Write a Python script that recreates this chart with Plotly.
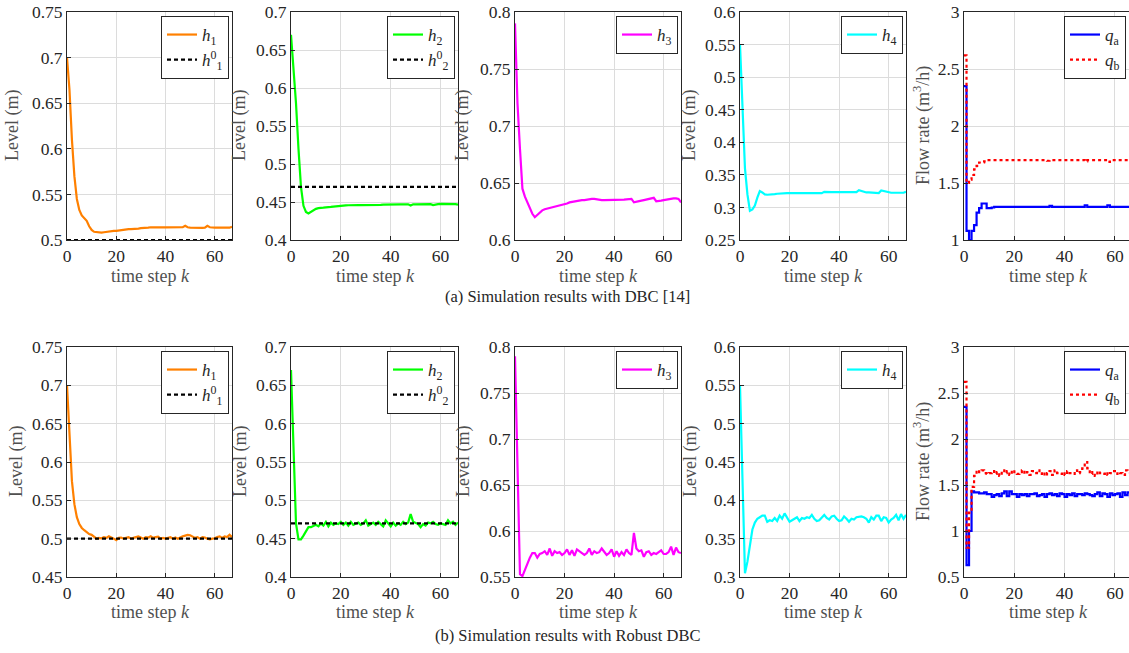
import plotly.graph_objects as go

W, H = 1129, 653

# ---------------- data ----------------
k = list(range(68))

# (a) DBC [14]
a_h1 = [0.700, 0.665, 0.610, 0.570, 0.545, 0.533, 0.527, 0.524, 0.521, 0.515,
        0.511, 0.509, 0.5085, 0.508, 0.508, 0.5085, 0.509, 0.509, 0.5095, 0.510,
        0.510, 0.5105, 0.511, 0.511, 0.5115, 0.512, 0.512, 0.512, 0.5125, 0.5125,
        0.513, 0.513, 0.513, 0.5135, 0.514, 0.5138, 0.5138, 0.5138, 0.5138, 0.5138,
        0.5138, 0.5138, 0.5138, 0.5138, 0.5138, 0.5138, 0.5138, 0.514, 0.5155, 0.514,
        0.5135, 0.5133, 0.5133, 0.5133, 0.5133, 0.5133, 0.5135, 0.5155, 0.514, 0.5135,
        0.5135, 0.5135, 0.5135, 0.5135, 0.5135, 0.5135, 0.5135, 0.5145]
a_h2 = [0.670, 0.630, 0.580, 0.520, 0.470, 0.445, 0.437, 0.435, 0.437, 0.440,
        0.441, 0.442, 0.442, 0.4425, 0.443, 0.443, 0.4435, 0.444, 0.4445, 0.445,
        0.445, 0.4452, 0.4455, 0.4457, 0.446, 0.446, 0.446, 0.446, 0.446, 0.446,
        0.446, 0.446, 0.446, 0.446, 0.4455, 0.446, 0.4462, 0.4465, 0.4467, 0.447,
        0.447, 0.447, 0.447, 0.447, 0.447, 0.447, 0.447, 0.447, 0.4455, 0.447,
        0.447, 0.4472, 0.4472, 0.4472, 0.4472, 0.4472, 0.4472, 0.446, 0.447, 0.4472,
        0.4475, 0.4475, 0.4475, 0.4475, 0.4475, 0.4475, 0.4472, 0.4465]
a_h3 = [0.790, 0.720, 0.680, 0.645, 0.638, 0.633, 0.628, 0.623, 0.620, 0.622,
        0.624, 0.626, 0.627, 0.6275, 0.628, 0.6285, 0.629, 0.6295, 0.630, 0.631,
        0.6315, 0.632, 0.633, 0.6335, 0.634, 0.634, 0.6345, 0.635, 0.635, 0.6355,
        0.636, 0.636, 0.636, 0.6355, 0.635, 0.635, 0.635, 0.635, 0.6352, 0.6352,
        0.6353, 0.6353, 0.6355, 0.6355, 0.6355, 0.6357, 0.6358, 0.636, 0.633, 0.6333,
        0.634, 0.6345, 0.635, 0.6355, 0.636, 0.6365, 0.637, 0.634, 0.634, 0.6345,
        0.635, 0.6355, 0.636, 0.636, 0.6365, 0.6365, 0.636, 0.633]
a_h4 = [0.550, 0.440, 0.360, 0.320, 0.295, 0.297, 0.303, 0.315, 0.325, 0.323,
        0.320, 0.3195, 0.3195, 0.320, 0.3205, 0.321, 0.3215, 0.3215, 0.322, 0.322,
        0.322, 0.322, 0.322, 0.322, 0.322, 0.322, 0.322, 0.322, 0.322, 0.322,
        0.322, 0.322, 0.322, 0.322, 0.324, 0.3235, 0.3235, 0.3235, 0.3235, 0.3235,
        0.3235, 0.3235, 0.3235, 0.3235, 0.3235, 0.3235, 0.3235, 0.3235, 0.3265, 0.325,
        0.324, 0.323, 0.323, 0.323, 0.323, 0.323, 0.322, 0.326, 0.325, 0.3235,
        0.3225, 0.3225, 0.3225, 0.3225, 0.3225, 0.3225, 0.3225, 0.324]
a_qa = [2.35, 1.08, 1.00, 1.08, 1.13, 1.24, 1.28, 1.32, 1.32, 1.28,
        1.28, 1.285, 1.29, 1.29, 1.29, 1.29, 1.29, 1.29, 1.29, 1.29,
        1.29, 1.29, 1.29, 1.29, 1.29, 1.29, 1.29, 1.29, 1.29, 1.29,
        1.29, 1.29, 1.29, 1.29, 1.30, 1.29, 1.29, 1.29, 1.29, 1.29,
        1.29, 1.29, 1.29, 1.29, 1.29, 1.29, 1.29, 1.29, 1.305, 1.29,
        1.29, 1.29, 1.29, 1.29, 1.29, 1.29, 1.29, 1.305, 1.29, 1.29,
        1.29, 1.29, 1.29, 1.29, 1.29, 1.29, 1.29, 1.29]
a_qb = [2.62, 1.50, 1.53, 1.57, 1.62, 1.65, 1.68, 1.68, 1.69, 1.70,
        1.70, 1.70, 1.70, 1.70, 1.70, 1.70, 1.70, 1.70, 1.70, 1.70,
        1.70, 1.70, 1.70, 1.70, 1.70, 1.70, 1.70, 1.70, 1.70, 1.70,
        1.70, 1.70, 1.70, 1.695, 1.70, 1.70, 1.70, 1.70, 1.70, 1.70,
        1.70, 1.70, 1.70, 1.70, 1.70, 1.70, 1.70, 1.70, 1.69, 1.70,
        1.70, 1.70, 1.70, 1.70, 1.70, 1.70, 1.70, 1.685, 1.70, 1.70,
        1.70, 1.70, 1.70, 1.70, 1.70, 1.70, 1.70, 1.70]

# (b) Robust DBC
b_h1 = [0.700, 0.630, 0.575, 0.545, 0.528, 0.519, 0.514, 0.511, 0.508, 0.506,
        0.505, 0.503, 0.500, 0.501, 0.5005, 0.502, 0.501, 0.503, 0.502, 0.500,
        0.498, 0.501, 0.5015, 0.500, 0.501, 0.502, 0.500, 0.5015, 0.502, 0.503,
        0.501, 0.500, 0.502, 0.5015, 0.503, 0.501, 0.502, 0.5025, 0.500, 0.501,
        0.500, 0.5015, 0.502, 0.500, 0.5015, 0.500, 0.502, 0.503, 0.504, 0.505,
        0.5045, 0.503, 0.501, 0.502, 0.500, 0.502, 0.5015, 0.500, 0.499, 0.500,
        0.5005, 0.502, 0.503, 0.501, 0.503, 0.502, 0.505, 0.502]
b_h2 = [0.670, 0.560, 0.470, 0.449, 0.449, 0.454, 0.460, 0.465, 0.465, 0.466,
        0.468, 0.466, 0.470, 0.467, 0.472, 0.466, 0.471, 0.468, 0.470, 0.469,
        0.472, 0.468, 0.471, 0.467, 0.472, 0.468, 0.470, 0.471, 0.468, 0.470,
        0.474, 0.467, 0.469, 0.471, 0.468, 0.472, 0.469, 0.466, 0.474, 0.470,
        0.466, 0.471, 0.467, 0.470, 0.468, 0.472, 0.469, 0.471, 0.482, 0.472,
        0.470, 0.469, 0.465, 0.469, 0.467, 0.471, 0.470, 0.472, 0.469, 0.468,
        0.470, 0.469, 0.468, 0.474, 0.470, 0.472, 0.468, 0.471]
b_h3 = [0.790, 0.660, 0.553, 0.551, 0.558, 0.565, 0.571, 0.576, 0.576, 0.571,
        0.575, 0.576, 0.578, 0.574, 0.581, 0.573, 0.578, 0.576, 0.577, 0.574,
        0.576, 0.580, 0.574, 0.579, 0.573, 0.580, 0.578, 0.575, 0.574, 0.576,
        0.581, 0.574, 0.578, 0.576, 0.577, 0.581, 0.578, 0.574, 0.576, 0.580,
        0.572, 0.578, 0.573, 0.577, 0.574, 0.580, 0.576, 0.574, 0.598, 0.581,
        0.578, 0.579, 0.572, 0.577, 0.578, 0.574, 0.576, 0.575, 0.577, 0.579,
        0.575, 0.575, 0.577, 0.583, 0.574, 0.582, 0.577, 0.576]
b_h4 = [0.550, 0.420, 0.305, 0.320, 0.343, 0.362, 0.371, 0.376, 0.378, 0.380,
        0.380, 0.372, 0.374, 0.373, 0.377, 0.373, 0.380, 0.376, 0.383, 0.378,
        0.372, 0.374, 0.376, 0.378, 0.373, 0.377, 0.376, 0.378, 0.377, 0.381,
        0.376, 0.373, 0.374, 0.377, 0.381, 0.377, 0.375, 0.379, 0.380, 0.376,
        0.373, 0.374, 0.379, 0.376, 0.372, 0.376, 0.375, 0.378, 0.379, 0.379,
        0.378, 0.376, 0.371, 0.378, 0.375, 0.380, 0.380, 0.373, 0.378, 0.377,
        0.371, 0.375, 0.377, 0.381, 0.374, 0.382, 0.376, 0.381]
b_qa = [2.35, 0.63, 1.00, 1.43, 1.42, 1.42, 1.41, 1.41, 1.42, 1.40,
        1.40, 1.37, 1.39, 1.40, 1.38, 1.41, 1.43, 1.38, 1.43, 1.40,
        1.40, 1.37, 1.40, 1.39, 1.40, 1.38, 1.40, 1.40, 1.41, 1.38,
        1.39, 1.40, 1.37, 1.40, 1.41, 1.39, 1.40, 1.38, 1.41, 1.40,
        1.37, 1.40, 1.39, 1.41, 1.38, 1.40, 1.40, 1.39, 1.41, 1.40,
        1.39, 1.38, 1.40, 1.42, 1.38, 1.41, 1.40, 1.37, 1.41, 1.39,
        1.40, 1.41, 1.37, 1.42, 1.39, 1.42, 1.37, 1.41]
b_qb = [2.62, 0.82, 1.20, 1.48, 1.60, 1.66, 1.64, 1.66, 1.63, 1.62,
        1.63, 1.65, 1.62, 1.64, 1.60, 1.66, 1.63, 1.65, 1.61, 1.66,
        1.64, 1.62, 1.64, 1.66, 1.62, 1.64, 1.61, 1.65, 1.63, 1.66,
        1.62, 1.64, 1.60, 1.63, 1.65, 1.61, 1.66, 1.63, 1.62, 1.64,
        1.61, 1.65, 1.63, 1.62, 1.66, 1.63, 1.64, 1.68, 1.75, 1.68,
        1.62, 1.64, 1.60, 1.65, 1.63, 1.62, 1.64, 1.61, 1.63, 1.65,
        1.62, 1.64, 1.63, 1.61, 1.66, 1.64, 1.60, 1.65]

h1_ref = 0.50
h2_ref = 0.47

x_ticks = [0, 20, 40, 60]
y_ranges_a = [(0.5, 0.75), (0.4, 0.7), (0.6, 0.8), (0.25, 0.6), (1.0, 3.0)]
y_ranges_b = [(0.45, 0.75), (0.4, 0.7), (0.55, 0.8), (0.3, 0.6), (0.5, 3.0)]
y_dticks = [0.05, 0.05, 0.05, 0.05, 0.5]
captions = ["(a) Simulation results with DBC [14]",
            "(b) Simulation results with Robust DBC"]

# ---------------- style / layout ----------------
FONT = "Liberation Serif"
TICKC = "#262626"
TITLEC = "#505050"
ORANGE, GREEN, MAGENTA, CYAN, BLUE, RED = "#FF8000", "#00FF00", "#FF00FF", "#00FFFF", "#0000FF", "#FF0000"

# panel pixel boxes
xpix = [(67, 232), (291, 458), (515, 681), (740, 906), (964, 1129)]
xmax = [67, 67, 67, 67, 65.6]
ypix = [(12, 240), (347, 577)]
ylab_x = [[13, 240, 463, 690, 922], [16, 240, 463, 690, 922]]
xlab_y = [276, 612]
xlab_cx = [150, 375, 598, 823, 1048]
cap_y = [296, 635]


def fx(p):
    return p / W


def fy(p):
    return 1 - p / H


fig = go.Figure()
layout = dict(template="none", width=W, height=H,
              margin=dict(l=0, r=0, t=0, b=0, pad=0, autoexpand=False),
              paper_bgcolor="white", plot_bgcolor="white",
              font=dict(family=FONT, size=17, color=TICKC),
              annotations=[], showlegend=True)

lab = {
    "h1": "<i>h</i><sub>1</sub>", "h1r": "<i>h</i><sup>0</sup><sub>1</sub>",
    "h2": "<i>h</i><sub>2</sub>", "h2r": "<i>h</i><sup>0</sup><sub>2</sub>",
    "h3": "<i>h</i><sub>3</sub>", "h4": "<i>h</i><sub>4</sub>",
    "qa": "<i>q</i><sub>a</sub>", "qb": "<i>q</i><sub>b</sub>",
}

rows = [
    (a_h1, a_h2, a_h3, a_h4, a_qa, a_qb, y_ranges_a),
    (b_h1, b_h2, b_h3, b_h4, b_qa, b_qb, y_ranges_b),
]

idx = 0
for r, (h1, h2, h3, h4, qa, qb, yr) in enumerate(rows):
    series = [
        [(h1, ORANGE, "solid", "h1", "linear"), ([h1_ref] * len(k), "black", "4px,3px", "h1r", "linear")],
        [(h2, GREEN, "solid", "h2", "linear"), ([h2_ref] * len(k), "black", "4px,3px", "h2r", "linear")],
        [(h3, MAGENTA, "solid", "h3", "linear")],
        [(h4, CYAN, "solid", "h4", "linear")],
        [(qa, BLUE, "solid", "qa", "hv"), (qb, RED, "3px,3px", "qb", "hv")],
    ]
    for c in range(5):
        idx += 1
        sfx = "" if idx == 1 else str(idx)
        xa, ya = "x" + sfx, "y" + sfx
        lg = "legend" + sfx
        for (yv, col, dash, key, shape) in series[c]:
            fig.add_trace(go.Scatter(
                x=k, y=yv, mode="lines", name=lab[key], xaxis=xa, yaxis=ya,
                legend=lg, hoverinfo="skip",
                line=dict(color=col, width=2.2, dash=dash, shape=shape)))
        x0, x1 = xpix[c]
        y0, y1 = ypix[r]
        axcommon = dict(showline=True, linecolor="#262626", linewidth=1, mirror=True,
                        showgrid=True, gridcolor="#DCDCDC", gridwidth=1,
                        zeroline=False, ticks="inside", ticklen=4, tickcolor="#262626",
                        automargin=False,
                        tickfont=dict(family=FONT, size=17.5, color=TICKC))
        layout["xaxis" + sfx] = dict(
            domain=[fx(x0), fx(x1)], range=[0, xmax[c]], anchor=ya,
            tickvals=x_ticks, **axcommon)
        layout["yaxis" + sfx] = dict(
            domain=[fy(y1), fy(y0)], range=list(yr[c]), anchor=xa,
            dtick=y_dticks[c], tick0=0, **axcommon)
        layout[lg] = dict(
            x=fx(x1 - 3), xanchor="right", y=fy(y0 + 4), yanchor="top",
            bgcolor="white", bordercolor="#262626", borderwidth=1,
            font=dict(family=FONT, size=17, color=TICKC),
            itemwidth=30, tracegroupgap=0)
        ytitle = "Flow rate (m<sup>3</sup>/h)" if c == 4 else "Level (m)"
        layout["annotations"].append(dict(
            text=ytitle, textangle=-90, xref="paper", yref="paper",
            x=fx(ylab_x[r][c]), y=fy((y0 + y1) / 2), showarrow=False,
            xanchor="center", yanchor="middle",
            font=dict(family=FONT, size=18, color=TITLEC)))
        layout["annotations"].append(dict(
            text="time step <i>k</i>", xref="paper", yref="paper",
            x=fx(xlab_cx[c]), y=fy(xlab_y[r]), showarrow=False,
            xanchor="center", yanchor="middle",
            font=dict(family=FONT, size=18, color=TITLEC)))
    layout["annotations"].append(dict(
        text=captions[r], xref="paper", yref="paper", x=fx(567), y=fy(cap_y[r]),
        showarrow=False, xanchor="center", yanchor="middle",
        font=dict(family=FONT, size=16.5, color=TICKC)))

fig.update_layout(**layout)
fig.write_html("out.html", config={"displayModeBar": False},
               post_script="document.body.style.margin='0px';document.body.style.overflow='hidden';")
